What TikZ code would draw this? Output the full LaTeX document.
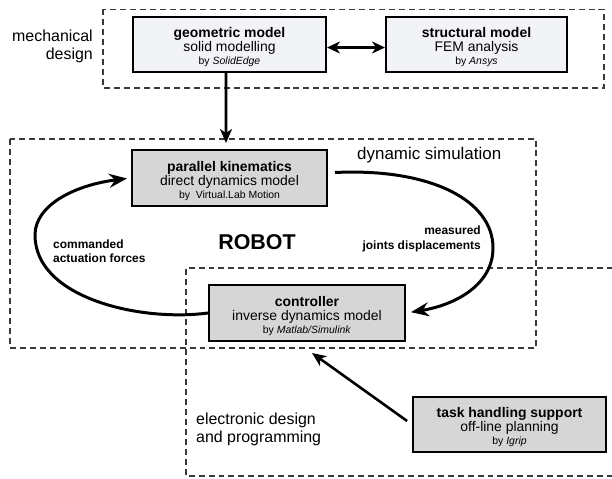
\documentclass[tikz,border=0pt]{standalone}
\usepackage{fontspec}
\setmainfont{Liberation Sans}
\usetikzlibrary{arrows.meta}
\definecolor{lightbox}{HTML}{F2F3F6}
\definecolor{graybox}{HTML}{D6D6D6}
\definecolor{dashcol}{HTML}{3A3A3A}
\tikzset{
  region/.style={draw=dashcol, line width=1.1pt, dash pattern=on 6pt off 4pt},
  modelbox/.style={draw=black, line width=2pt, inner sep=0pt, align=center,
    font=\fontsize{14}{17}\selectfont},
  topbox/.style={modelbox, fill=lightbox},
  botbox/.style={modelbox, fill=graybox},
  regionlabel/.style={font=\fontsize{16}{18}\selectfont, inner sep=0pt},
  flowlabel/.style={font=\bfseries\fontsize{12}{14.5}\selectfont, inner sep=0pt},
  bigarrow/.style={line width=2.6pt, -{Stealth[length=14pt,width=12pt,inset=4pt]}},
  looparrow/.style={line width=3pt, -{Stealth[length=18pt,width=14pt,inset=6pt]}},
}
\newcommand{\bysmall}[1]{{\fontsize{10.5}{14}\selectfont #1}}
\newcommand{\topstrut}{\rule{0pt}{16pt}}
\begin{document}
\begin{tikzpicture}[x=1bp,y=-1bp]
\useasboundingbox (0,0) rectangle (612,479);
% regions
\draw[region] (103,9.5) rectangle (604,88);
\draw[region] (10,139) rectangle (536,348);
\draw[region] (613,268) -- (186,268) -- (186,476) -- (613,476);
% boxes
\node[topbox, minimum width=193bp, minimum height=55bp] (geo) at (229.5,44.5)
  {\topstrut\textbf{geometric model}\\[-3pt]solid modelling\\[-4pt]\bysmall{by \textit{SolidEdge}}};
\node[topbox, minimum width=181bp, minimum height=55bp] (struct) at (476.5,44.5)
  {\topstrut\textbf{structural model}\\[-3pt]FEM analysis\\[-4pt]\bysmall{by \textit{Ansys}}};
\node[botbox, minimum width=195bp, minimum height=56bp] (par) at (229.5,178)
  {\topstrut\textbf{parallel kinematics}\\[-3pt]direct dynamics model\\[-4pt]\bysmall{by\ \ Virtual.Lab Motion}};
\node[botbox, minimum width=196bp, minimum height=56bp] (ctrl) at (307,313)
  {\topstrut\textbf{controller}\\[-3pt]inverse dynamics model\\[-4pt]\bysmall{by \textit{Matlab/Simulink}}};
\node[botbox, minimum width=193bp, minimum height=55bp] (task) at (509.5,424.5)
  {\topstrut\textbf{task handling support}\\[-3pt]off-line planning\\[-4pt]\bysmall{by \textit{Igrip}}};
% labels
\node[regionlabel, anchor=east, align=right] (mech) at (93,46) {mechanical\\design};
\node[regionlabel, font=\fontsize{17}{19}\selectfont, anchor=west] (dyn) at (357,155) {dynamic simulation};
\node[regionlabel, anchor=west, align=left] (elec) at (196,429) {electronic design\\and programming};
\node[font=\bfseries\fontsize{21.5}{24}\selectfont, inner sep=0pt] (robot) at (257,242) {ROBOT};
\node[flowlabel, anchor=west, align=left] (cmd) at (53,251) {commanded\\actuation forces};
\node[flowlabel, anchor=east, align=right] (meas) at (481,239) {measured\\joints displacements};
% connectors
\coordinate (gtip) at (226,143);
\draw[bigarrow] ([xshift=-3.5bp]geo.south) -- (gtip);
\draw[line width=2.6pt, {Stealth[length=13pt,width=12pt,inset=4pt]}-{Stealth[length=13pt,width=12pt,inset=4pt]}]
  ([yshift=-3bp]geo.east) -- ([yshift=-3bp]struct.west);
\coordinate (ttip) at (312,353);
\draw[bigarrow, shorten <=6bp] (task.west) -- (ttip);
\draw[looparrow, shorten >=5bp] ([xshift=7bp,yshift=5.5bp]par.east)
  .. controls (430,168) and (493,200) .. (493,248)
  .. controls (493,285) and (455,305) .. (ctrl.east);
\draw[looparrow, shorten >=4bp] (ctrl.west)
  .. controls (140,322) and (35,298) .. (35,235)
  .. controls (35,205) and (75,185) .. (par.west);
\end{tikzpicture}
\end{document}
